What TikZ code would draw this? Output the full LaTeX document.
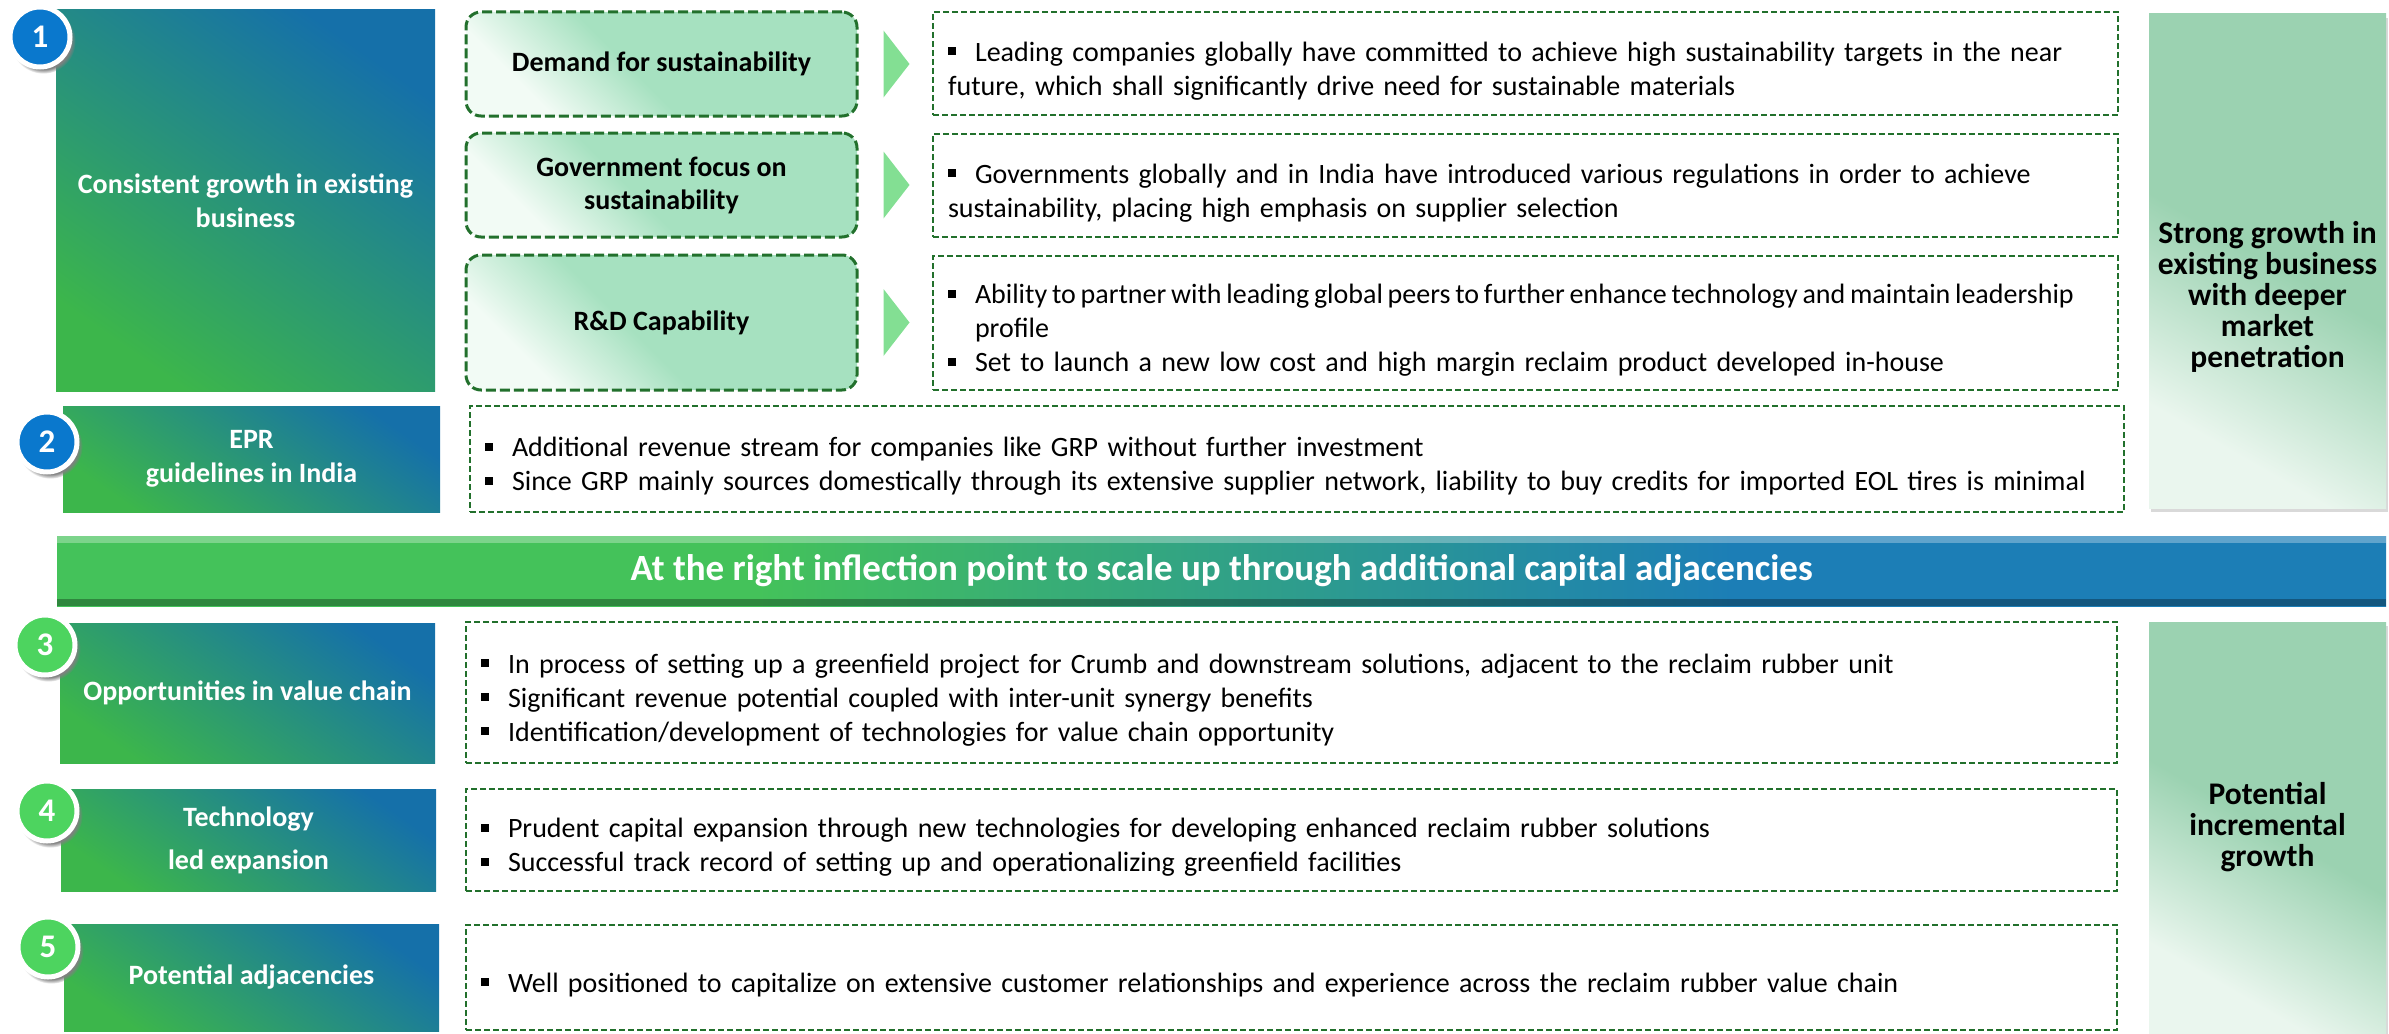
\documentclass[tikz,border=0pt]{standalone}
\usepackage{fontspec}
\setmainfont{Carlito}
\usetikzlibrary{calc,shadows}

\definecolor{gblue}{HTML}{1570A9}
\definecolor{ggreen}{HTML}{3CB64B}
\definecolor{mint}{HTML}{A6E1C0}
\definecolor{mintlo}{HTML}{F2FBF5}
\definecolor{pale}{HTML}{9BD2B1}
\definecolor{palelo}{HTML}{EAF6EE}
\definecolor{dashgreen}{HTML}{22702C}
\definecolor{arrowgreen}{HTML}{83DF93}
\definecolor{numblue}{HTML}{0A78CD}
\definecolor{numgreen}{HTML}{4DD45F}
\definecolor{bangreen}{HTML}{44C25A}
\definecolor{banblue}{HTML}{1C7EB6}

\pgfdeclareverticalshading{tealfade}{100bp}{color(0bp)=(ggreen); color(25bp)=(ggreen); color(75bp)=(gblue); color(100bp)=(gblue)}
\pgfdeclareverticalshading{mintfade}{100bp}{color(0bp)=(mintlo); color(27bp)=(mintlo); color(45bp)=(mint); color(100bp)=(mint)}
\pgfdeclareverticalshading{panelfade}{100bp}{color(0bp)=(palelo); color(27bp)=(palelo); color(50bp)=(pale); color(100bp)=(pale)}
\pgfdeclarehorizontalshading{banfade}{100bp}{color(0bp)=(bangreen); color(40bp)=(bangreen); color(61bp)=(banblue); color(100bp)=(banblue)}

\newcommand\sqbul{\par\hangindent=27pt\hangafter=1\noindent
  \makebox[27pt][l]{\raisebox{6pt}{\rule{8pt}{8pt}}}}

\tikzset{
  numbox/.style={shade, shading=tealfade, shading angle=-35, text=white,
    font=\bfseries\fontsize{28}{34}\selectfont, align=center, inner sep=0pt},
  numdot/.style={circle, fill=#1, draw=white, line width=5pt, minimum size=60pt,
    inner sep=0pt, text=white, font=\bfseries\fontsize{33}{33}\selectfont,
    circular drop shadow={shadow scale=1.08, shadow xshift=3pt, shadow yshift=-4pt}},
  gbox/.style={rounded corners=15pt, draw=dashgreen, line width=3pt,
    dash pattern=on 10pt off 4pt, shade, shading=mintfade, shading angle=-45,
    font=\bfseries\fontsize{28}{33}\selectfont, align=center, inner sep=0pt,
    minimum width=391pt},
  txtbox/.style={draw=dashgreen, line width=1.6pt, dash pattern=on 6pt off 3pt,
    font=\fontsize{28}{34}\selectfont, align=left, inner xsep=15pt, inner ysep=0pt},
  panel/.style={shade, shading=panelfade, shading angle=-30, minimum width=237pt,
    inner sep=0pt, drop shadow={shadow xshift=2pt, shadow yshift=-4pt, opacity=.3}},
  pantext/.style={font=\bfseries\fontsize{31.5}{31}\selectfont, align=center},
  banner/.style={shade, shading=banfade, text=white,
    font=\bfseries\fontsize{37}{37}\selectfont, inner sep=0pt,
    path picture={
      \fill[white,opacity=.3] (path picture bounding box.north west)
        rectangle ([yshift=-7pt]path picture bounding box.north east);
      \fill[black,opacity=.3] ([yshift=7pt]path picture bounding box.south west)
        rectangle (path picture bounding box.south east);}}
}

\begin{document}
\begin{tikzpicture}[x=1pt,y=-1pt]
  \useasboundingbox (0,0) rectangle (2389,1033);

  % left column
  \node[numbox, minimum width=379pt, minimum height=381pt] (grow) at (245.5,200.5)
    {Consistent growth in existing\\business};
  \node[numbox, minimum width=377pt, minimum height=106pt] (epr) at (251.5,459)
    {EPR\\guidelines in India};
  \node[numbox, minimum width=375pt, minimum height=140pt] (chain) at (247.5,693)
    {Opportunities in value chain};
  \node[numbox, minimum width=375pt, minimum height=102pt] (tech) at (248.5,840)
    {Technology\\[9pt]led expansion};
  \node[numbox, minimum width=375pt, minimum height=107pt] (adj) at (251.5,977.5)
    {Potential adjacencies};

  \node[numdot=numblue] (n1) at (40,37) {1};
  \node[numdot=numblue] (n2) at (47,442) {2};
  \node[numdot=numgreen] (n3) at (45,645) {3};
  \node[numdot=numgreen] (n4) at (47,811) {4};
  \node[numdot=numgreen] (n5) at (48,947) {5};

  % drivers
  \node[gbox, minimum height=104pt] (demand) at (661.5,64) {Demand for sustainability};
  \node[gbox, minimum height=104pt] (gov) at (661.5,185) {Government focus on\\sustainability};
  \node[gbox, minimum height=135pt] (rnd) at (661.5,322.5) {R\&D Capability};

  \foreach \r in {demand,gov,rnd}
    \fill[arrowgreen] ($(\r.east)+(25,-33.5)$) -- ++(26,33.5) -- ++(-26,33.5) -- cycle;

  % bullet boxes
  \node[txtbox, text width=1155pt, minimum height=103pt] (dA) at (1525.5,63.5)
    {\sqbul Leading companies globally have committed to achieve high sustainability targets in the near\newline
     future, which shall significantly drive need for sustainable materials};
  \node[txtbox, text width=1155pt, minimum height=103pt] (dB) at (1525.5,185.5)
    {\sqbul Governments globally and in India have introduced various regulations in order to achieve\newline
     sustainability, placing high emphasis on supplier selection};
  \node[txtbox, text width=1155pt, minimum height=134pt] (dC) at (1525.5,323)
    {\sqbul \makebox[1128pt][l]{\spaceskip=4.8pt Ability to partner with leading global peers to further enhance technology and maintain leadership}\newline
     profile
     \sqbul Set to launch a new low cost and high margin reclaim product developed in-house};
  \node[txtbox, text width=1624pt, minimum height=106pt] (d2) at (1297,459)
    {\sqbul Additional revenue stream for companies like GRP without further investment
     \sqbul Since GRP mainly sources domestically through its extensive supplier network, liability to buy credits for imported EOL tires is minimal};
  \node[txtbox, text width=1621pt, minimum height=141pt] (d3) at (1291.5,692.5)
    {\sqbul In process of setting up a greenfield project for Crumb and downstream solutions, adjacent to the reclaim rubber unit
     \sqbul Significant revenue potential coupled with inter-unit synergy benefits
     \sqbul Identification/development of technologies for value chain opportunity};
  \node[txtbox, text width=1621pt, minimum height=102pt] (d4) at (1291.5,840)
    {\sqbul Prudent capital expansion through new technologies for developing enhanced reclaim rubber solutions
     \sqbul Successful track record of setting up and operationalizing greenfield facilities};
  \node[txtbox, text width=1621pt, minimum height=105pt] (d5) at (1291.5,977.5)
    {\sqbul Well positioned to capitalize on extensive customer relationships and experience across the reclaim rubber value chain};

  % banner
  \node[banner, minimum width=2329pt, minimum height=70pt] (ban) at (1221.5,571)
    {At the right inflection point to scale up through additional capital adjacencies};

  % outcome panels
  \node[panel, minimum height=494pt] (pan1) at (2267.5,261) {};
  \node[pantext] (out1) at ([yshift=-36pt]pan1.center)
    {Strong growth in\\existing business\\with deeper\\market\\penetration};
  \node[panel, minimum height=411pt] (pan2) at (2267.5,827.5) {};
  \node[pantext] (out2) at (pan2.center) {Potential\\incremental\\growth};
\end{tikzpicture}
\end{document}
